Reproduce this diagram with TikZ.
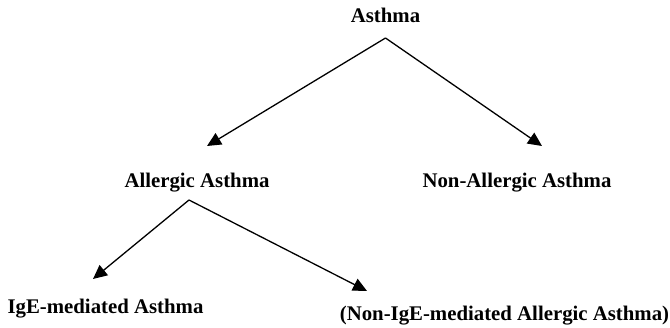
\documentclass[tikz,border=0pt]{standalone}
\usepackage{fontspec}
\setmainfont{Liberation Serif}
\usetikzlibrary{positioning, arrows.meta, calc}

\begin{document}
\begin{tikzpicture}[
    x=1pt, y=-1pt,
    term/.style={font=\fontsize{20.8}{24}\selectfont\bfseries, inner sep=0pt, anchor=base},
    branch/.style={-{Triangle[length=14pt, width=13pt]}, line width=1.3pt, draw=black}
]
\useasboundingbox (0,0) rectangle (670,328);

% Nodes
\node[term] (asthma) at (385.5,23) {Asthma};
\node[term] (allergic) at (197,188) {Allergic Asthma};
\node[term] (nonallergic) at (517,188) {Non-Allergic Asthma};
\node[term] (ige) at (105.5,314) {IgE-mediated Asthma};
\node[term] (nonige) at (504.5,321) {(Non-IgE-mediated Allergic Asthma)};

% Fork points and arrow ends
\coordinate (asthma_fork) at ($(asthma.base)+(0,15)$);
\coordinate (allergic_fork) at ($(allergic.base)+(-8,12)$);
\coordinate (allergic_in) at ($(allergic.base)+(10,-42)$);
\coordinate (nonallergic_in) at ($(nonallergic.base)+(25,-42)$);
\coordinate (ige_in) at ($(ige.base)+(-12.5,-35)$);
\coordinate (nonige_in) at ($(nonige.base)+(-137.5,-30)$);

% Branches
\draw[branch] (asthma_fork) -- (allergic_in);
\draw[branch] (asthma_fork) -- (nonallergic_in);
\draw[branch] (allergic_fork) -- (ige_in);
\draw[branch] (allergic_fork) -- (nonige_in);

\end{tikzpicture}
\end{document}
